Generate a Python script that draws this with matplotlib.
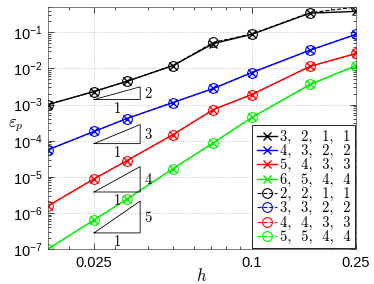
import matplotlib
matplotlib.use("Agg")
import matplotlib.pyplot as plt
from matplotlib.ticker import FixedLocator, FixedFormatter, LogLocator, NullFormatter
from matplotlib.font_manager import FontProperties

plt.rcParams['font.family'] = ['Liberation Sans', 'DejaVu Sans']
plt.rcParams['mathtext.fontset'] = 'custom'
plt.rcParams['mathtext.rm'] = 'Liberation Sans'
plt.rcParams['mathtext.it'] = 'Liberation Sans:italic'

# mesh sizes
h = [1/60, 1/40, 1/30, 1/20, 1/14, 1/10, 1/6, 1/4]

# errors, solid lines (x markers)
err_solid = {
    '3, 2, 1, 1': [1.0e-3, 2.3e-3, 4.4e-3, 1.2e-2, 4.9e-2, 8.8e-2, 0.34, 0.38],
    '4, 3, 2, 2': [5.6e-5, 1.8e-4, 4.1e-4, 1.14e-3, 2.8e-3, 7.7e-3, 3.2e-2, 8.8e-2],
    '5, 4, 3, 3': [1.56e-6, 8.8e-6, 2.8e-5, 1.47e-4, 7.3e-4, 1.9e-3, 1.14e-2, 2.6e-2],
    '6, 5, 4, 4': [1.0e-7, 6.4e-7, 2.4e-6, 1.67e-5, 8.8e-5, 4.4e-4, 3.6e-3, 1.2e-2],
}
# errors, dashed lines (circle markers)
err_dashed = {
    '2, 2, 1, 1': [1.0e-3, 2.3e-3, 4.4e-3, 1.2e-2, 5.3e-2, 9.0e-2, 0.35, 0.50],
    '3, 3, 2, 2': [5.6e-5, 1.8e-4, 4.1e-4, 1.14e-3, 2.8e-3, 7.7e-3, 3.2e-2, 8.8e-2],
    '4, 4, 3, 3': [1.56e-6, 8.8e-6, 2.8e-5, 1.47e-4, 7.3e-4, 1.9e-3, 1.14e-2, 2.6e-2],
    '5, 5, 4, 4': [1.0e-7, 6.4e-7, 2.4e-6, 1.67e-5, 8.8e-5, 4.4e-4, 3.6e-3, 1.2e-2],
}
colors = ['black', 'blue', 'red', '#00ee00']

# slope triangles: slope, base height
tri_slopes = [2, 3, 4, 5]
tri_base = [1.38e-3, 8.3e-5, 3.8e-6, 2.8e-7]
tri_x0, tri_x1 = 0.025, 0.0375

xticks = [0.025, 0.1, 0.25]
xticklabels = ['0.025', '0.1', '0.25']
yticks = [1e-7, 1e-6, 1e-5, 1e-4, 1e-3, 1e-2, 1e-1]

cm = FontProperties(size=10.5, math_fontfamily='cm')
cm_leg = FontProperties(family='cmr10', size=10.5)

fig = plt.figure(figsize=(3.74, 2.84), dpi=100)
ax = fig.add_axes([0.128, 0.123, 0.824, 0.852])

for (lab, y), c in zip(err_solid.items(), colors):
    ax.plot(h, y, '-x', color=c, lw=1.0, ms=6, mew=1.0, label=lab.replace(' ', '  '))
for (lab, y), c in zip(err_dashed.items(), colors):
    ax.plot(h, y, '--o', color=c, lw=0.8, ms=7, mew=0.8, mfc='none',
            label=lab.replace(' ', '  '))

for p, y0 in zip(tri_slopes, tri_base):
    y1 = y0 * (tri_x1 / tri_x0) ** p
    ax.plot([tri_x0, tri_x1, tri_x1, tri_x0], [y0, y0, y1, y0], color='black', lw=0.6)
    ax.text(tri_x1 * 1.03, (y0 * y1) ** 0.5, r'$%d$' % p, fontproperties=cm,
            ha='left', va='center')
    ax.text((tri_x0 * tri_x1) ** 0.5, y0 / 1.75, r'$1$', fontproperties=cm,
            ha='center', va='center')

ax.set_xscale('log')
ax.set_yscale('log')
ax.set_xlim(1/60, 0.25)
ax.set_ylim(1e-7, 0.5)

ax.xaxis.set_major_locator(FixedLocator(xticks))
ax.xaxis.set_major_formatter(FixedFormatter(xticklabels))
ax.xaxis.set_minor_locator(LogLocator(base=10, subs=range(2, 10)))
ax.xaxis.set_minor_formatter(NullFormatter())
ax.yaxis.set_major_locator(FixedLocator(yticks))
ax.yaxis.set_minor_locator(LogLocator(base=10, subs=range(2, 10), numticks=20))
ax.yaxis.set_minor_formatter(NullFormatter())

ax.tick_params(which='both', direction='in', top=True, right=True, labelsize=10.5)
ax.tick_params(which='major', length=4, width=0.5)
ax.tick_params(which='minor', length=2, width=0.5)
ax.tick_params(axis='x', pad=5)
for s in ax.spines.values():
    s.set_linewidth(0.5)
    s.set_color('#444444')
ax.grid(True, which='major', ls=':', color='#bbbbbb', lw=0.6)

ax.set_xlabel(r'$h$', fontproperties=FontProperties(size=12, math_fontfamily='cm'),
              va='center')
ax.xaxis.set_label_coords(0.5, -0.11)
ax.set_ylabel(r'$\varepsilon_p$', fontproperties=FontProperties(size=12, math_fontfamily='cm'),
              rotation=0, ha='center', va='center')
ax.yaxis.set_label_coords(-0.105, 0.51)

leg = ax.legend(loc='lower right', prop=cm_leg, borderaxespad=0.05, handlelength=1.4,
                handletextpad=0.2, labelspacing=0.02, borderpad=0.3, fancybox=False,
                framealpha=1)
leg.get_frame().set_edgecolor('black')
leg.get_frame().set_linewidth(0.6)

fig.savefig('out.png', dpi=100)
